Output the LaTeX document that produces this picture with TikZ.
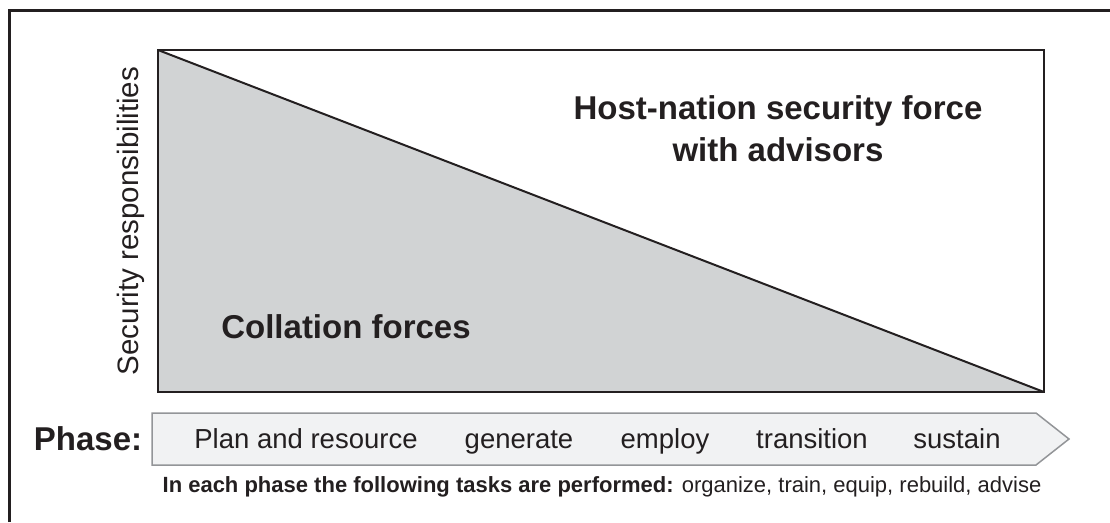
\documentclass[tikz,border=0pt]{standalone}
\usepackage{fontspec}
\setmainfont{Liberation Sans}
\definecolor{ink}{HTML}{231F20}
\definecolor{chartgray}{HTML}{D1D3D4}
\definecolor{band}{HTML}{F1F2F3}
\definecolor{bandline}{HTML}{939598}

\begin{document}
\begin{tikzpicture}[x=1pt, y=-1pt,
    head/.style={font=\fontsize{33}{42}\selectfont\bfseries, text=ink, inner sep=0pt, align=center},
    stage/.style={font=\fontsize{27.5}{33}\selectfont, text=ink, anchor=base, inner sep=0pt}]
    \useasboundingbox (0,0) rectangle (1110,522);
    % outer frame
    \draw[ink, line width=3pt] (9,522) -- (9,10) -- (1110,10);
    % chart
    \fill[chartgray] (158,50) -- (1044,392) -- (158,392) -- cycle;
    \draw[ink, line width=2pt] (158,50) -- (1044,392);
    \draw[ink, line width=2.5pt] (158,50) rectangle (1044,392);
    \node[head, anchor=base] (host) at (778,161) {Host-nation security force\\with advisors};
    \node[head, anchor=base] (coal) at (346,338) {Collation forces};
    \node[font=\fontsize{29.5}{33}\selectfont, text=ink, inner sep=0pt, rotate=90] (resp) at (131,221) {Security responsibilities};
    % phase band
    \draw[bandline, fill=band, line width=1.5pt] (152,413) -- (1036,413) -- (1069,439) -- (1036,465) -- (152,465) -- cycle;
    \node[head, anchor=base] (phase) at (88,450) {Phase:};
    \node[stage] (plan) at (306,448) {Plan and resource};
    \node[stage] (gen) at (519,448) {generate};
    \node[stage] (emp) at (665,448) {employ};
    \node[stage] (trans) at (812,448) {transition};
    \node[stage] (sus) at (957,448) {sustain};
    \node[font=\fontsize{22}{26}\selectfont, text=ink, inner sep=0pt, anchor=base] (tasks) at (602,492)
      {\textbf{In each phase the following tasks are performed:} organize, train, equip, rebuild, advise};
\end{tikzpicture}
\end{document}
